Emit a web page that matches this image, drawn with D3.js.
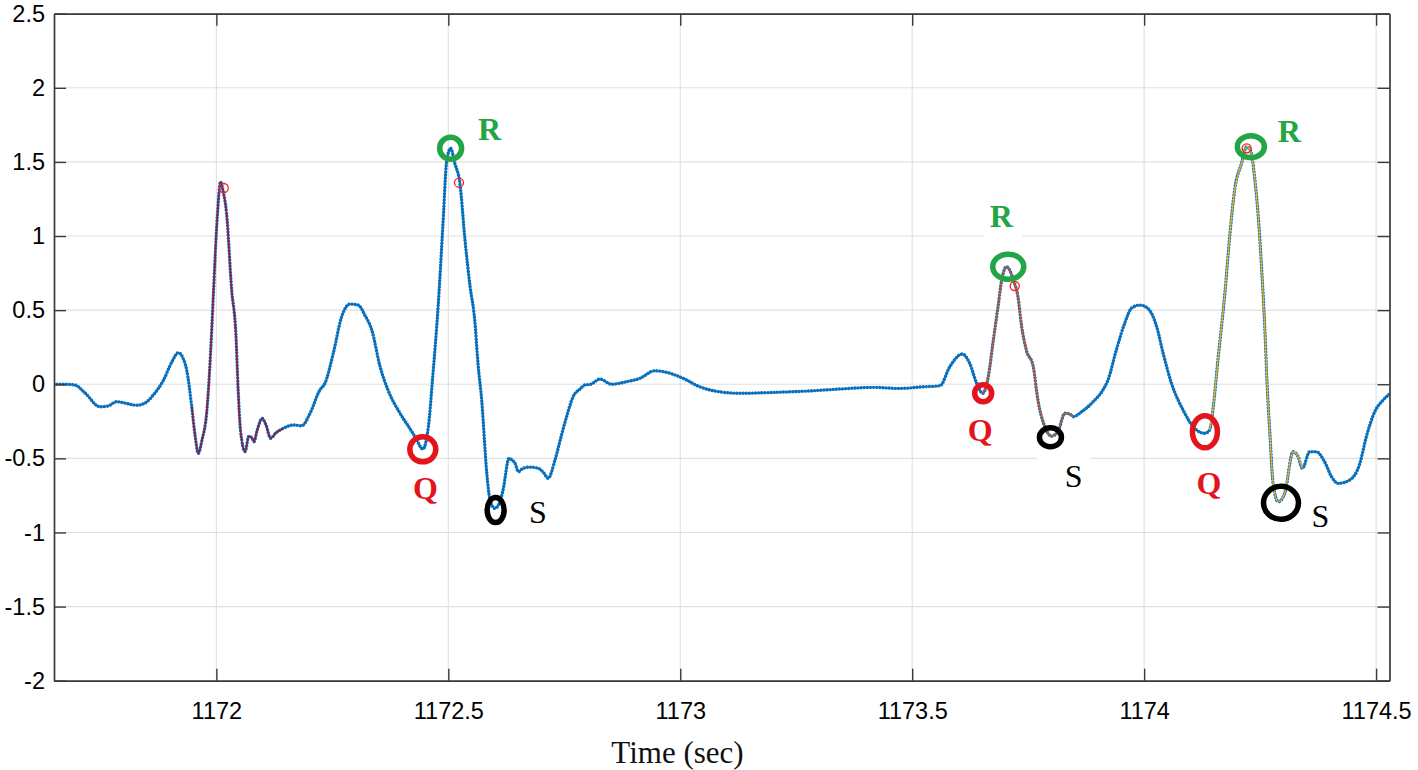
<!DOCTYPE html>
<html>
<head>
<meta charset="utf-8">
<script src="https://cdn.jsdelivr.net/npm/d3@7"></script>
<style>
  html, body { margin: 0; padding: 0; background: #ffffff; }
  svg { display: block; }
</style>
</head>
<body>
<svg id="chart" width="1418" height="770"></svg>
<script>
// ---------------- data ----------------
const times = [
  1171.650, 1171.676, 1171.695, 1171.717, 1171.749, 1171.766, 1171.785, 1171.803, 1171.828, 1171.846,
  1171.864, 1171.886, 1171.904, 1171.918, 1171.928, 1171.936, 1171.947, 1171.954, 1171.961, 1171.969,
  1171.979, 1171.990, 1171.993, 1172.002, 1172.009, 1172.014, 1172.022, 1172.033, 1172.042, 1172.047,
  1172.052, 1172.062, 1172.070, 1172.077, 1172.081, 1172.088, 1172.099, 1172.107, 1172.117, 1172.128,
  1172.144, 1172.166, 1172.184, 1172.202, 1172.223, 1172.234, 1172.252, 1172.270, 1172.288, 1172.306,
  1172.320, 1172.335, 1172.353, 1172.370, 1172.396, 1172.417, 1172.430, 1172.445, 1172.457, 1172.467,
  1172.478, 1172.489, 1172.496, 1172.505, 1172.514, 1172.525, 1172.536, 1172.547, 1172.557, 1172.564,
  1172.572, 1172.583, 1172.590, 1172.600, 1172.611, 1172.618, 1172.631, 1172.637, 1172.644, 1172.651,
  1172.661, 1172.676, 1172.694, 1172.706, 1172.715, 1172.730, 1172.744, 1172.756, 1172.769, 1172.784,
  1172.794, 1172.807, 1172.827, 1172.852, 1172.884, 1172.913, 1172.945, 1172.971, 1173.006, 1173.042,
  1173.085, 1173.128, 1173.200, 1173.272, 1173.344, 1173.416, 1173.473, 1173.524, 1173.560, 1173.581,
  1173.608, 1173.624, 1173.639, 1173.652, 1173.664, 1173.674, 1173.685, 1173.693, 1173.703, 1173.710,
  1173.718, 1173.728, 1173.736, 1173.746, 1173.761, 1173.771, 1173.786, 1173.800, 1173.814, 1173.829,
  1173.840, 1173.847, 1173.865, 1173.890, 1173.911, 1173.922, 1173.940, 1173.958, 1173.973, 1173.991,
  1174.008, 1174.027, 1174.041, 1174.059, 1174.084, 1174.109, 1174.131, 1174.141, 1174.149, 1174.159,
  1174.174, 1174.185, 1174.195, 1174.210, 1174.221, 1174.229, 1174.238, 1174.246, 1174.253, 1174.260,
  1174.265, 1174.271, 1174.278, 1174.289, 1174.303, 1174.321, 1174.332, 1174.341, 1174.357, 1174.371,
  1174.389, 1174.404, 1174.418, 1174.443, 1174.465, 1174.479, 1174.497, 1174.515, 1174.529
];
const values = [
   0.000,  0.000, -0.005, -0.059, -0.152, -0.147, -0.118, -0.127, -0.142, -0.127,
  -0.073,  0.028,  0.150,  0.213,  0.177,  0.096, -0.152, -0.343, -0.466, -0.377,
  -0.196,  0.366,  0.568,  1.130,  1.366,  1.310,  1.153,  0.636,  0.343, -0.039,
  -0.309, -0.455, -0.350, -0.363, -0.388, -0.309, -0.230, -0.275, -0.365, -0.329,
  -0.298, -0.275, -0.280, -0.196, -0.039,  0.006,  0.208,  0.455,  0.541,  0.534,
   0.467,  0.366,  0.118, -0.039, -0.196, -0.298, -0.363, -0.437, -0.287,  0.074,
   0.523,  1.108,  1.491,  1.592,  1.491,  1.356,  0.973,  0.658,  0.433,  0.141,
  -0.107, -0.601, -0.781, -0.837, -0.795, -0.714, -0.500, -0.511, -0.534, -0.590,
  -0.567, -0.559, -0.567, -0.599, -0.635, -0.511, -0.343, -0.208, -0.084, -0.032,
  -0.005,  0.000,  0.035,  0.000,  0.017,  0.040,  0.091,  0.080,  0.040, -0.017,
  -0.051, -0.061, -0.055, -0.046, -0.032, -0.021, -0.028, -0.017, -0.010,  0.118,
   0.204,  0.141,  0.006, -0.061,  0.051,  0.276,  0.523,  0.703,  0.793,  0.771,
   0.703,  0.590,  0.388,  0.231,  0.118, -0.107, -0.287, -0.350, -0.321, -0.196,
  -0.201, -0.219, -0.186, -0.118, -0.039,  0.028,  0.231,  0.411,  0.514,  0.534,
   0.512,  0.388,  0.208,  0.006, -0.174, -0.298, -0.331, -0.309, -0.152,  0.163,
   0.613,  1.018,  1.310,  1.491,  1.603,  1.580,  1.400,  1.130,  0.793,  0.388,
   0.006, -0.331, -0.669, -0.793, -0.736, -0.455, -0.489, -0.567, -0.455, -0.455,
  -0.523, -0.624, -0.669, -0.646, -0.534, -0.354, -0.186, -0.107, -0.066
];

// QRS segments highlighted with a thin line
const qrsStart = [1171.947, 1172.430, 1173.652, 1174.141];
const qrsEnd   = [1172.144, 1172.661, 1173.847, 1174.341];

// small red detector markers
const markTimes  = [1172.016, 1172.523, 1173.721, 1174.221];
const markValues = [1.324, 1.360, 0.663, 1.592];

// annotated Q / R / S points (beats 2, 3, 4)
const annoKind   = ["Q", "R", "S", "Q", "R", "S", "Q", "R", "S"];
const annoTimes  = [1172.445, 1172.505, 1172.602, 1173.653, 1173.707, 1173.798, 1174.131, 1174.230, 1174.295];
const annoValues = [-0.439, 1.592, -0.849, -0.061, 0.793, -0.358, -0.321, 1.603, -0.800];

// annotation letters (anchor = left / baseline, in data units)
const labelText   = ["Q", "R", "S", "Q", "R", "S", "Q", "R", "S"];
const labelTimes  = [1172.424, 1172.564, 1172.674, 1173.620, 1173.667, 1173.829, 1174.113, 1174.288, 1174.361];
const labelValues = [-0.775, 1.648, -0.937, -0.383, 1.061, -0.694, -0.741, 1.634, -0.964];

const xTicks = [1172, 1172.5, 1173, 1173.5, 1174, 1174.5];
const xTickLabels = ["1172", "1172.5", "1173", "1173.5", "1174", "1174.5"];
const yTicks = [-2, -1.5, -1, -0.5, 0, 0.5, 1, 1.5, 2, 2.5];
const yTickLabels = ["-2", "-1.5", "-1", "-0.5", "0", "0.5", "1", "1.5", "2", "2.5"];
const xLabel = "Time (sec)";

// ---------------- styles ----------------
const W = 1418, H = 770;
const margin = { left: 54, right: 28.5, top: 13.7, bottom: 89.3 };
const qrsColors = ["#A2142F", "#0072BD", "#D95319", "#EDB120"];
const kindColor = { Q: "#e5141c", R: "#22a545", S: "#000000" };
const kindWeight = { Q: "bold", R: "bold", S: "normal" };
// ellipse radii [rx, ry] for each annotation circle
const annoRadii = [[13, 12.5], [11, 11], [8.5, 12.5], [8.5, 8.5], [15.5, 12.5], [11, 9.5], [12.5, 16], [13.5, 11], [17.5, 16.5]];
// label white boxes (padding left,right,top,bottom) or null
const labelBoxes = [null, null, null, null, [5, 9, 6, 11], [28, 8, 9, 5], null, null, null];

// ---------------- chart ----------------
const svg = d3.select("#chart");
const iw = W - margin.left - margin.right;
const ih = H - margin.top - margin.bottom;

const x = d3.scaleLinear().domain([1171.650, 1174.5289]).range([margin.left, margin.left + iw]);
const y = d3.scaleLinear().domain([-2, 2.5]).range([margin.top + ih, margin.top]);

svg.append("rect").attr("width", W).attr("height", H).attr("fill", "#fff");

// grid
const grid = svg.append("g");
grid.selectAll("line.vx").data(xTicks).join("line")
  .attr("x1", d => x(d)).attr("x2", d => x(d))
  .attr("y1", margin.top).attr("y2", margin.top + ih)
  .attr("stroke", "#e0e0e0").attr("stroke-width", 1.1);
grid.selectAll("line.hy").data(yTicks).join("line")
  .attr("y1", d => y(d)).attr("y2", d => y(d))
  .attr("x1", margin.left).attr("x2", margin.left + iw)
  .attr("stroke", "#e0e0e0").attr("stroke-width", 1.1);

// data
const pts = times.map((t, i) => [t, values[i]]);
const line = d3.line().x(d => x(d[0])).y(d => y(d[1])).curve(d3.curveMonotoneX);

const plot = svg.append("g");
plot.append("clipPath").attr("id", "clip").append("rect")
  .attr("x", margin.left).attr("y", margin.top).attr("width", iw).attr("height", ih);
const inner = plot.append("g").attr("clip-path", "url(#clip)");

// dotted blue signal
inner.append("path").attr("d", line(pts))
  .attr("fill", "none").attr("stroke", "#0a6fbd").attr("stroke-width", 3.4)
  .attr("stroke-linecap", "round").attr("stroke-dasharray", "0.01 3.1");

// thin QRS lines
qrsStart.forEach((s, i) => {
  const seg = pts.filter(p => p[0] >= s - 1e-9 && p[0] <= qrsEnd[i] + 1e-9);
  inner.append("path").attr("d", line(seg))
    .attr("fill", "none").attr("stroke", qrsColors[i]).attr("stroke-width", 1.4);
});

// small red markers
inner.selectAll("circle.mk").data(markTimes).join("circle")
  .attr("cx", d => x(d)).attr("cy", (d, i) => y(markValues[i])).attr("r", 4.5)
  .attr("fill", "none").attr("stroke", "#ff1a1a").attr("stroke-width", 1.3);

// axes box
const axG = svg.append("g");
const axB = d3.axisBottom(x).tickValues(xTicks).tickFormat((d, i) => xTickLabels[i])
  .tickSizeInner(-12).tickSizeOuter(0).tickPadding(22);
const axT = d3.axisTop(x).tickValues(xTicks).tickFormat("").tickSizeInner(-12).tickSizeOuter(0);
const axL = d3.axisLeft(y).tickValues(yTicks).tickFormat((d, i) => yTickLabels[i])
  .tickSizeInner(-12).tickSizeOuter(0).tickPadding(9);
const axR = d3.axisRight(y).tickValues(yTicks).tickFormat("").tickSizeInner(-12).tickSizeOuter(0);

function styleAxis(g) {
  g.select(".domain").attr("stroke", "#3a3a3a").attr("stroke-width", 1.7);
  g.selectAll(".tick line").attr("stroke", "#3a3a3a").attr("stroke-width", 1.4);
  g.selectAll(".tick text").attr("fill", "#000").attr("font-size", 23.5)
    .attr("font-family", "'Liberation Sans', Arial, Helvetica, sans-serif");
}
axG.append("g").attr("transform", `translate(0,${margin.top + ih})`).call(axB).call(styleAxis);
axG.append("g").attr("transform", `translate(0,${margin.top})`).call(axT).call(styleAxis);
axG.append("g").attr("transform", `translate(${margin.left},0)`).call(axL).call(styleAxis);
axG.append("g").attr("transform", `translate(${margin.left + iw},0)`).call(axR).call(styleAxis);

// x label
svg.append("text").attr("x", x(1172.994)).attr("y", 763)
  .attr("text-anchor", "middle").attr("font-family", "'Liberation Serif', 'Times New Roman', serif")
  .attr("font-size", 31).attr("fill", "#111").text(xLabel);

// annotation ellipses
const anno = svg.append("g");
anno.selectAll("ellipse").data(annoTimes).join("ellipse")
  .attr("cx", d => x(d)).attr("cy", (d, i) => y(annoValues[i]))
  .attr("rx", (d, i) => annoRadii[i][0]).attr("ry", (d, i) => annoRadii[i][1])
  .attr("fill", "none").attr("stroke", (d, i) => kindColor[annoKind[i]]).attr("stroke-width", 5.5);

// annotation letters
labelText.forEach((t, i) => {
  const g = anno.append("g");
  const txt = g.append("text").attr("x", x(labelTimes[i])).attr("y", y(labelValues[i]))
    .attr("font-family", "'Liberation Serif', 'Times New Roman', serif")
    .attr("font-size", 32).attr("font-weight", kindWeight[t])
    .attr("fill", kindColor[t]).text(t);
  const pad = labelBoxes[i];
  if (pad) {
    const bb = txt.node().getBBox();
    const top = y(labelValues[i]) - 22;
    g.insert("rect", "text")
      .attr("x", bb.x - pad[0]).attr("y", top - pad[2])
      .attr("width", bb.width + pad[0] + pad[1]).attr("height", 22 + pad[2] + pad[3])
      .attr("fill", "#fff");
  }
});
</script>
</body>
</html>
